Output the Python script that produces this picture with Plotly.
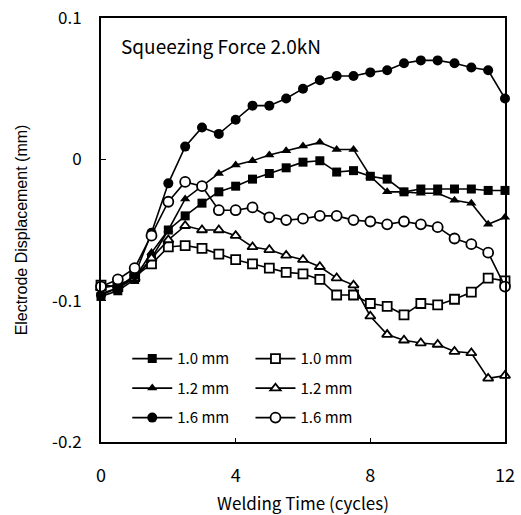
import plotly.graph_objects as go

# Welding time (cycles)
time = [0, 0.5, 1, 1.5, 2, 2.5, 3, 3.5, 4, 4.5, 5, 5.5, 6, 6.5, 7, 7.5,
        8, 8.5, 9, 9.5, 10, 10.5, 11, 11.5, 12]

# Filled markers
sq_filled_10 = [-0.097, -0.093, -0.085, -0.070, -0.050, -0.040, -0.031, -0.023,
                -0.019, -0.014, -0.010, -0.006, -0.002, -0.001, -0.009, -0.008,
                -0.012, -0.014, -0.023, -0.021, -0.021, -0.021, -0.021, -0.022, -0.022]
tri_filled_12 = [-0.095, -0.091, -0.084, -0.066, -0.050, -0.028, -0.019, -0.010,
                 -0.004, -0.001, 0.003, 0.006, 0.0095, 0.012, 0.007, 0.007,
                 -0.012, -0.023, -0.023, -0.024, -0.024, -0.029, -0.031, -0.046, -0.041]
cir_filled_16 = [-0.096, -0.091, -0.082, -0.052, -0.017, 0.009, 0.0225, 0.018,
                 0.028, 0.038, 0.038, 0.043, 0.050, 0.056, 0.059, 0.059,
                 0.0615, 0.063, 0.068, 0.070, 0.070, 0.068, 0.065, 0.063, 0.043]

# Open markers
sq_open_10 = [-0.089, -0.090, -0.083, -0.074, -0.062, -0.061, -0.063, -0.067,
              -0.071, -0.074, -0.077, -0.080, -0.081, -0.085, -0.096, -0.096,
              -0.102, -0.104, -0.110, -0.102, -0.103, -0.099, -0.094, -0.084, -0.086]
tri_open_12 = [-0.091, -0.089, -0.084, -0.070, -0.057, -0.047, -0.050, -0.050,
               -0.054, -0.062, -0.064, -0.068, -0.071, -0.076, -0.084, -0.089,
               -0.111, -0.124, -0.128, -0.130, -0.131, -0.136, -0.137, -0.155, -0.153]
cir_open_16 = [-0.090, -0.085, -0.077, -0.054, -0.030, -0.016, -0.019, -0.036,
               -0.036, -0.034, -0.041, -0.043, -0.042, -0.040, -0.040, -0.043,
               -0.044, -0.046, -0.044, -0.046, -0.048, -0.056, -0.060, -0.066, -0.090]

labels = ["1.0 mm", "1.2 mm", "1.6 mm"]
x_ticks = [0, 4, 8, 12]
y_ticks = [0.1, 0, -0.1, -0.2]
y_ticktext = ["0.1", "0", "-0.1", "-0.2"]

GOTHIC = "Noto Sans CJK JP"

fig = go.Figure()

series = [
    (sq_filled_10, "square", True, labels[0], "legend"),
    (sq_open_10, "square-open", False, labels[0], "legend2"),
    (tri_filled_12, "triangle-up", True, labels[1], "legend"),
    (tri_open_12, "triangle-up-open", False, labels[1], "legend2"),
    (cir_filled_16, "circle", True, labels[2], "legend"),
    (cir_open_16, "circle-open", False, labels[2], "legend2"),
]

for k, (vals, sym, filled, name, leg) in enumerate(series):
    fig.add_trace(go.Scatter(
        x=time, y=vals, name=name, mode="lines+markers",
        legend=leg, legendgroup=f"g{k}",
        cliponaxis=False,
        line=dict(color="black", width=1.6),
        marker=dict(
            symbol=sym.replace("-open", ""),
            size=10 if "circle" in sym else 9,
            color="black" if filled else "white",
            line=dict(color="black", width=0 if filled else 1.8),
        ),
    ))

legend_common = dict(
    font=dict(family=GOTHIC, size=15, color="black"),
    bgcolor="rgba(0,0,0,0)",
    borderwidth=0,
    tracegroupgap=7,
    itemwidth=40,
    xanchor="left",
    yanchor="top",
    y=0.235,
)

fig.update_layout(
    width=521, height=515,
    margin=dict(l=101, r=16, t=18, b=73),
    paper_bgcolor="white", plot_bgcolor="white",
    showlegend=True,
    legend=dict(x=0.065, **legend_common),
    legend2=dict(x=0.37, **legend_common),
    xaxis=dict(
        range=[0, 12], tickvals=x_ticks, ticks="inside", ticklen=4, tickwidth=1,
        tickcolor="black", showline=True, linewidth=2, linecolor="black",
        mirror=True, showgrid=False, zeroline=False, automargin=False,
        tickfont=dict(family=GOTHIC, size=18, color="black"),
        ticklabelstandoff=16,
        title=dict(text="Welding Time (cycles)", standoff=16,
                   font=dict(family=GOTHIC, size=17, color="black")),
    ),
    yaxis=dict(
        range=[-0.2, 0.1], tickvals=y_ticks, ticktext=y_ticktext,
        ticks="inside", ticklen=5, tickwidth=1, tickcolor="black",
        showline=True, linewidth=2, linecolor="black", mirror=True,
        showgrid=False, zeroline=False, automargin=False,
        tickfont=dict(family=GOTHIC, size=17, color="black"),
        ticklabelstandoff=14,
        title=dict(text="Electrode Displacement (mm)", standoff=20,
                   font=dict(family="Liberation Sans", size=16, color="black")),
    ),
    annotations=[dict(
        text="Squeezing Force 2.0kN", xref="paper", yref="paper",
        x=0.045, y=0.935, xanchor="left", yanchor="middle", showarrow=False,
        font=dict(family=GOTHIC, size=19, color="black"),
    )],
)

fig.write_html("out.html")
